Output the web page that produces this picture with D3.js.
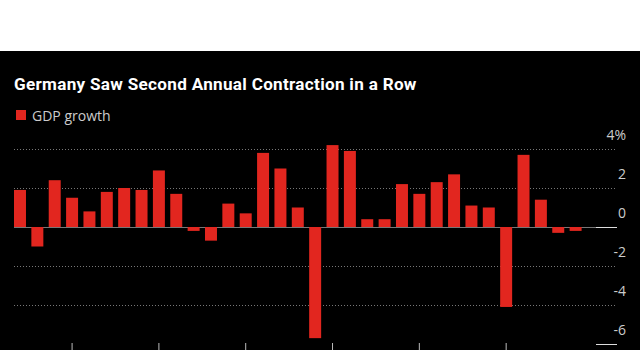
<!DOCTYPE html>
<html>
<head>
<meta charset="utf-8">
<script src="https://cdn.jsdelivr.net/npm/d3@7"></script>
<style>
  html, body { margin: 0; padding: 0; background: #fff; overflow: hidden; }
  text { font-family: "Open Sans", "Noto Sans", sans-serif; }
</style>
</head>
<body>
<div id="container"></div>
<script>
/* DATA */
const years = d3.range(1992, 2025);
const growth = [1.9, -1.0, 2.4, 1.5, 0.8, 1.8, 2.0, 1.9, 2.9, 1.7,
  -0.2, -0.7, 1.2, 0.7, 3.8, 3.0, 1.0, -5.7, 4.2, 3.9,
  0.4, 0.4, 2.2, 1.7, 2.3, 2.7, 1.1, 1.0, -4.1, 3.7,
  1.4, -0.3, -0.2];
const yTicks = [4, 2, 0, -2, -4, -6];
const xTickYears = [1995, 2000, 2005, 2010, 2015, 2020];

const width = 640;
const height = 350;
const red = "#e2261f";

const svg = d3.select("#container").append("svg")
  .attr("width", width)
  .attr("height", height)

// black panel under the white top band
svg.append("rect")
  .attr("x", 0).attr("y", 51)
  .attr("width", width).attr("height", height - 51)
  .attr("fill", "#000")

/* SCALES */
const xScale = d3.scaleBand()
  .domain(years)
  .range([14, 581.6])
  .paddingInner(0.31)
  .paddingOuter(0)

const yScale = d3.scaleLinear()
  .domain([-6, 4])
  .range([344, 149])

/* GRID */
svg.selectAll("line.grid")
  .data(yTicks.filter(d => d !== 0 && d !== -6))
  .join("line")
  .attr("class", "grid")
  .attr("x1", 14).attr("x2", 617)
  .attr("y1", d => yScale(d) + 0.5).attr("y2", d => yScale(d) + 0.5)
  .attr("stroke", "#777")
  .attr("stroke-dasharray", "1,2")

// zero line
svg.append("line")
  .attr("x1", 14).attr("x2", 596)
  .attr("y1", yScale(0) + 0.5).attr("y2", yScale(0) + 0.5)
  .attr("stroke", "#777")

// short solid marks next to labels
svg.selectAll("line.mark")
  .data([0, -6])
  .join("line")
  .attr("class", "mark")
  .attr("x1", 596).attr("x2", 617)
  .attr("y1", d => yScale(d) + 0.5).attr("y2", d => yScale(d) + 0.5)
  .attr("stroke", "#ddd")

/* BARS */
svg.selectAll("rect.bar")
  .data(growth)
  .join("rect")
  .attr("class", "bar")
  .attr("x", (d, i) => xScale(years[i]))
  .attr("y", d => yScale(Math.max(0, d)))
  .attr("width", xScale.bandwidth())
  .attr("height", d => Math.abs(yScale(d) - yScale(0)))
  .attr("fill", red)

/* AXES */
const yAxis = d3.axisRight(yScale)
  .tickValues(yTicks)
  .tickSize(0)
  .tickFormat(d => d === 4 ? "4%" : d3.format("d")(d).replace("−", "-"))

svg.append("g")
  .attr("transform", "translate(626, -14)")
  .call(yAxis)
  .call(g => g.select(".domain").remove())
  .call(g => g.selectAll("text")
    .attr("x", 0)
    .attr("dy", "0.32em")
    .attr("text-anchor", "end")
    .attr("fill", "#ccc")
    .style("font-size", "14px"))

// year labels sit below the visible area, so only tick marks are drawn
const xAxis = d3.axisBottom(xScale)
  .tickValues(xTickYears)
  .tickSize(8)
  .tickFormat("")

svg.append("g")
  .attr("transform", "translate(0, 343)")
  .call(xAxis)
  .call(g => g.select(".domain").remove())
  .call(g => g.selectAll("line").attr("stroke", "#bbb"))

/* TITLE AND LEGEND */
const title = svg.append("text")
  .attr("x", 14)
  .attr("y", 90)
  .attr("fill", "#fff")
  .style("font-family", "Roboto, sans-serif")
  .style("font-weight", "bold")
  .style("letter-spacing", "0.3px")
  .style("font-size", "17px")
  .text("Germany Saw Second Annual Contraction in a Row")
const tw = title.node().getComputedTextLength();
title.style("font-size", (17 * 403 / tw).toFixed(2) + "px")

svg.append("rect")
  .attr("x", 16).attr("y", 110)
  .attr("width", 10).attr("height", 10)
  .attr("fill", red)

svg.append("text")
  .attr("x", 32)
  .attr("y", 120.5)
  .attr("fill", "#ccc")
  .style("font-size", "14px")
  .text("GDP growth")
</script>
</body>
</html>
